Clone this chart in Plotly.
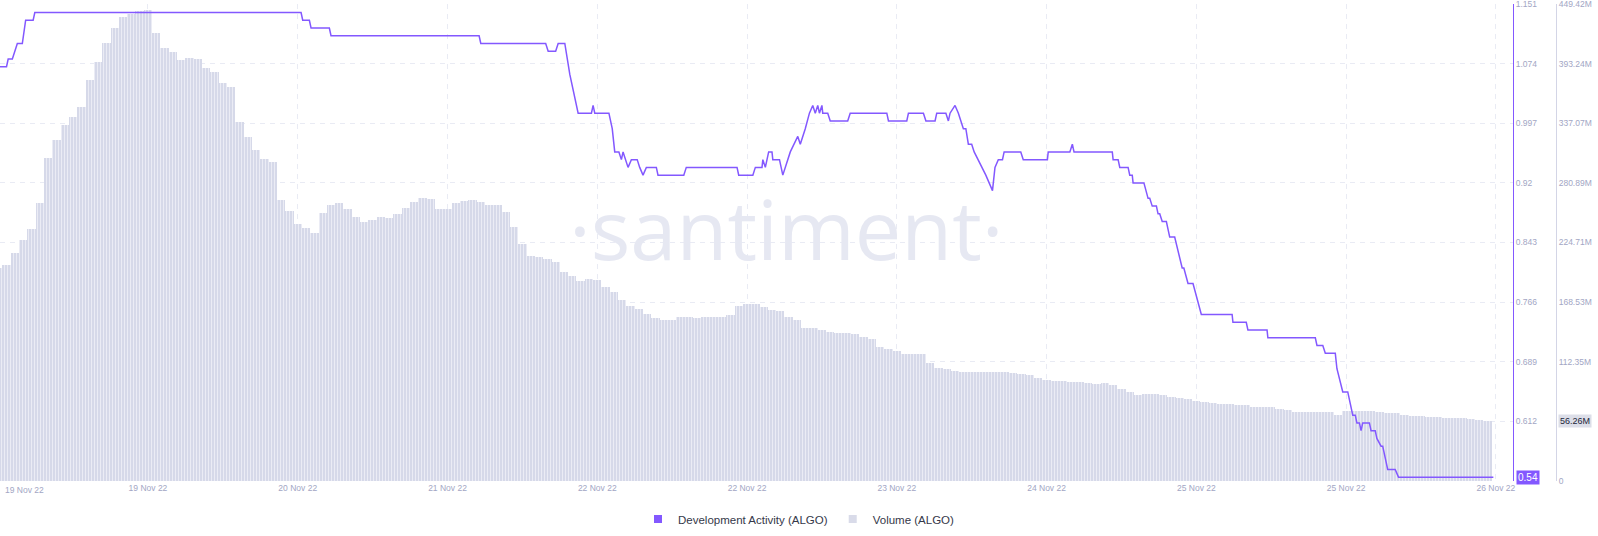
import pandas as pd
import plotly.graph_objects as go

START = pd.Timestamp("2022-11-19 00:00")

# Hourly trading volume (ALGO), millions USD, from 19 Nov 00:00
volume_millions = [
    200.5, 203.6, 214.6, 227.2, 237.2, 261.7, 304.2, 321.4, 335.6, 342.8,
    352.8, 378.0, 395.2, 412.6, 426.7, 437.1, 440.2, 442.4, 443.5, 422.0,
    407.8, 404.0, 396.8, 399.0, 397.5, 389.0, 384.9, 375.4, 371.0, 338.7,
    324.0, 312.0, 303.2, 300.4, 264.9, 254.8, 242.2, 238.2, 234.0, 252.9,
    260.2, 262.3, 256.1, 248.6, 244.4, 246.0, 248.6, 247.6, 251.7, 257.0,
    263.3, 266.5, 265.5, 256.4, 256.1, 261.8, 263.9, 265.2, 263.3, 260.2,
    260.2, 253.8, 239.7, 223.4, 212.4, 211.4, 209.0, 206.1, 197.3, 193.2,
    188.8, 190.1, 189.5, 183.1, 177.9, 170.6, 165.0, 162.4, 157.4, 153.9,
    151.8, 151.8, 154.9, 154.3, 153.4, 154.3, 154.3, 154.3, 156.5, 165.0,
    166.8, 166.5, 164.3, 161.5, 159.9, 154.9, 151.8, 143.9, 144.2, 142.3,
    140.7, 139.2, 139.2, 138.3, 136.0, 133.8, 126.6, 124.4, 122.3, 120.0,
    119.7, 119.7, 110.9, 106.8, 105.3, 103.7, 102.5, 102.7, 103.0, 103.0,
    103.0, 102.7, 101.5, 101.1, 99.9, 96.8, 95.2, 94.5, 94.3, 93.6,
    93.0, 92.4, 91.4, 92.1, 90.2, 86.7, 83.6, 81.1, 81.7, 81.7,
    81.3, 78.9, 78.0, 77.0, 75.7, 74.5, 73.2, 72.6, 72.3, 71.9,
    71.4, 70.0, 70.0, 70.0, 68.2, 67.2, 64.8, 65.3, 65.3, 65.3,
    65.0, 62.5, 66.0, 66.3, 66.3, 66.0, 65.3, 64.4, 63.8, 62.5,
    61.6, 61.0, 60.3, 60.0, 59.7, 59.7, 59.1, 58.4, 57.8, 56.26,
]

# Development activity: hours after 19 Nov 00:00 and values
dev_hours = [
    0.2, 1.0, 1.2, 1.7, 2.3, 2.9, 3.3, 4.2, 4.4, 36.4,
    36.6, 37.4, 37.6, 39.8, 40.0, 57.8, 58.0, 65.8, 66.1, 67.0,
    67.3, 68.1, 68.7, 69.3, 69.7, 71.3, 71.5, 71.7, 73.4, 73.8,
    74.1, 74.6, 74.9, 75.1, 75.7, 76.1, 76.8, 77.1, 77.5, 77.9,
    79.1, 79.3, 82.4, 82.7, 88.8, 89.0, 90.7, 91.0, 91.8, 91.9,
    92.2, 92.6, 93.0, 93.1, 93.9, 94.1, 94.3, 95.2, 95.7, 96.1,
    96.4, 96.7, 97.0, 97.5, 97.9, 98.2, 98.5, 98.7, 99.0, 99.1,
    99.7, 100.0, 102.1, 102.4, 106.8, 107.0, 109.2, 109.4, 111.2, 111.5,
    112.6, 112.8, 113.9, 114.2, 114.4, 115.0, 115.4, 116.0, 116.3, 116.6,
    117.0, 117.3, 117.8, 118.3, 118.7, 119.1, 119.5, 119.8, 120.2, 120.7,
    120.9, 122.9, 123.2, 126.1, 126.2, 128.8, 129.1, 129.3, 133.9, 134.0,
    134.6, 134.8, 135.8, 136.0, 136.3, 136.4, 137.7, 138.2, 138.4, 138.7,
    139.2, 139.4, 139.6, 139.9, 140.4, 140.8, 141.4, 142.3, 142.5, 143.0,
    143.6, 144.6, 148.3, 148.4, 150.0, 150.2, 152.5, 152.6, 158.3, 158.5,
    159.2, 159.5, 160.7, 160.9, 161.6, 162.2, 162.8, 163.1, 163.3, 163.6,
    163.8, 164.0, 164.8, 165.0, 165.5, 165.7, 166.2, 166.4, 167.0, 167.9,
    168.3, 179.7,
]
dev_values = [
    1.07, 1.07, 1.08, 1.08, 1.10, 1.10, 1.13, 1.13, 1.14, 1.14,
    1.13, 1.13, 1.12, 1.12, 1.11, 1.11, 1.10, 1.10, 1.09, 1.09,
    1.10, 1.10, 1.06, 1.03, 1.01, 1.01, 1.02, 1.01, 1.01, 0.99,
    0.96, 0.96, 0.95, 0.96, 0.94, 0.95, 0.95, 0.94, 0.93, 0.94,
    0.94, 0.93, 0.93, 0.94, 0.94, 0.93, 0.93, 0.94, 0.94, 0.95,
    0.94, 0.96, 0.96, 0.95, 0.95, 0.94, 0.93, 0.96, 0.97, 0.98,
    0.97, 0.98, 0.99, 1.01, 1.02, 1.01, 1.02, 1.01, 1.02, 1.01,
    1.01, 1.00, 1.00, 1.01, 1.01, 1.00, 1.00, 1.01, 1.01, 1.00,
    1.00, 1.01, 1.01, 1.00, 1.01, 1.02, 1.01, 0.99, 0.99, 0.97,
    0.97, 0.96, 0.95, 0.94, 0.93, 0.92, 0.91, 0.94, 0.95, 0.95,
    0.96, 0.96, 0.95, 0.95, 0.96, 0.96, 0.97, 0.96, 0.96, 0.95,
    0.95, 0.94, 0.94, 0.93, 0.93, 0.92, 0.92, 0.90, 0.90, 0.89,
    0.89, 0.88, 0.88, 0.87, 0.87, 0.85, 0.85, 0.81, 0.81, 0.79,
    0.79, 0.75, 0.75, 0.74, 0.74, 0.73, 0.73, 0.72, 0.72, 0.71,
    0.71, 0.70, 0.70, 0.68, 0.65, 0.65, 0.62, 0.62, 0.61, 0.61,
    0.60, 0.61, 0.61, 0.60, 0.60, 0.59, 0.58, 0.58, 0.55, 0.55,
    0.54, 0.54,
]
assert len(dev_hours) == len(dev_values)

# Axis ticks
tick_step_hours = 18
tick_labels = ["19 Nov 22", "19 Nov 22", "20 Nov 22", "21 Nov 22", "22 Nov 22",
               "22 Nov 22", "23 Nov 22", "24 Nov 22", "25 Nov 22", "25 Nov 22", "26 Nov 22"]
dev_ticks = [0.535, 0.612, 0.689, 0.766, 0.843, 0.92, 0.997, 1.074, 1.151]
dev_tick_labels = ["", "0.612", "0.689", "0.766", "0.843", "0.92", "0.997", "1.074", "1.151"]
vol_ticks_m = [0, 56.18, 112.35, 168.53, 224.71, 280.89, 337.07, 393.24, 449.42]
vol_tick_labels = ["0", "", "112.35M", "168.53M", "224.71M", "280.89M", "337.07M", "393.24M", "449.42M"]
last_dev = 0.54
last_vol_m = 56.26

PURPLE = "#8358ff"
BAR = "#d6d9e9"
GRID = "#e9ebf4"
TICK = "#a2a6c4"

vol_times = [START + pd.Timedelta(hours=h) for h in range(len(volume_millions))]
dev_times = [START + pd.Timedelta(hours=h) for h in dev_hours]
tick_times = [START + pd.Timedelta(hours=tick_step_hours * i) for i in range(len(tick_labels))]

fig = go.Figure()
fig.add_trace(go.Bar(
    x=vol_times, y=[v * 1e6 for v in volume_millions], yaxis="y",
    width=3600000, showlegend=False, hoverinfo="skip",
    marker=dict(color=BAR, line=dict(width=0),
                pattern=dict(shape="|", size=3, solidity=0.3,
                             fgcolor="#edeef6", bgcolor=BAR, fillmode="replace")),
))
fig.add_trace(go.Scatter(
    x=dev_times, y=dev_values, yaxis="y2", mode="lines",
    line=dict(color=PURPLE, width=1.5), showlegend=False, hoverinfo="skip",
))
# legend entries
fig.add_trace(go.Scatter(x=[None], y=[None], mode="markers", name="Development Activity (ALGO)",
                         marker=dict(symbol="square", size=8, color=PURPLE)))
fig.add_trace(go.Scatter(x=[None], y=[None], mode="markers", name="Volume (ALGO)",
                         marker=dict(symbol="square", size=8, color="#d9dbe9")))

x0 = START + pd.Timedelta(minutes=13)
x1 = START + pd.Timedelta(hours=182.06)
dom_end = 1513 / 1556

fig.update_layout(
    width=1598, height=536,
    margin=dict(l=0, r=42, t=4, b=55),
    paper_bgcolor="white", plot_bgcolor="white",
    font=dict(family="Liberation Sans, Arial, sans-serif", color=TICK, size=9),
    hovermode=False,
    bargap=0,
    xaxis=dict(
        domain=[0, dom_end], range=[x0, x1], type="date",
        tickmode="array", tickvals=tick_times[1:], ticktext=tick_labels[1:],
        showgrid=True, gridcolor=GRID, griddash="5px,5px", gridwidth=1,
        zeroline=False, showline=False, ticks="", automargin=False,
        tickfont=dict(size=8.5, color=TICK), ticklabeloverflow="allow",
    ),
    yaxis=dict(
        range=[0, 449.42e6], side="right", anchor="free", position=1.0,
        tickmode="array", tickvals=[v * 1e6 for v in vol_ticks_m], ticktext=vol_tick_labels,
        showgrid=True, gridcolor=GRID, griddash="5px,5px", gridwidth=1,
        showline=True, linecolor="#d3d5e6", linewidth=1, zeroline=False,
        ticks="", automargin=False, tickfont=dict(size=8.5, color=TICK),
        ticklabeloverflow="allow",
    ),
    yaxis2=dict(
        range=[0.535, 1.151], side="right", anchor="x", overlaying="y",
        tickmode="array", tickvals=dev_ticks, ticktext=dev_tick_labels,
        showgrid=False, showline=True, linecolor=PURPLE, linewidth=1, zeroline=False,
        ticks="", automargin=False, tickfont=dict(size=8.5, color=TICK),
        ticklabeloverflow="allow",
    ),
    legend=dict(
        orientation="h", xref="container", x=0.5, xanchor="center",
        yref="container", y=1 - 519 / 536, yanchor="middle",
        font=dict(size=11.5, color="#353849"), itemclick=False,
    ),
)

fig.add_annotation(
    text="·santiment·", xref="paper", yref="paper", x=786 / 1513 * dom_end, y=0.532,
    xanchor="center", yanchor="middle", showarrow=False,
    font=dict(family="Open Sans", size=83, color="#e6e8f2", weight=400),
)
fig.add_annotation(
    text=tick_labels[0], xref="paper", yref="paper", x=0.002, y=-0.0189,
    xanchor="left", yanchor="middle", showarrow=False,
    font=dict(size=8.5, color=TICK),
)
fig.add_annotation(
    text=f"{last_dev:.2f}", xref="paper", yref="y2", x=dom_end + 0.002, y=last_dev,
    xanchor="left", yanchor="middle", showarrow=False, bgcolor=PURPLE, borderpad=1,
    font=dict(size=10, color="white"),
)
fig.add_annotation(
    text=f"{last_vol_m:.2f}M", xref="paper", yref="y", x=1.001, y=last_vol_m * 1e6,
    xanchor="left", yanchor="middle", showarrow=False, bgcolor="#dcdee8", borderpad=1,
    font=dict(size=9, color="#23263a"),
)

fig.write_html(
    "out.html",
    config={"displayModeBar": False},
    post_script="document.body.style.margin='0px';document.body.style.overflow='hidden';",
)
